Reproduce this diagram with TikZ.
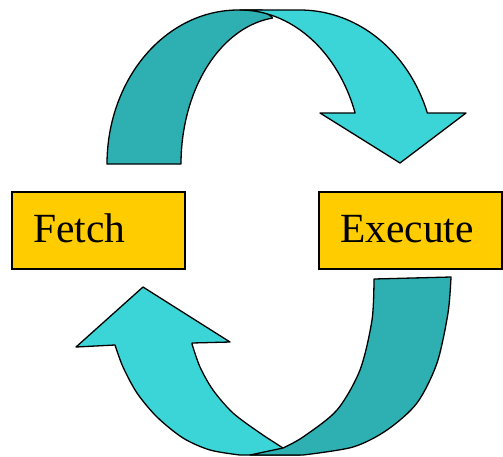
\documentclass[tikz,border=0pt]{standalone}
\usepackage{fontspec}
\setmainfont{Liberation Serif}
\definecolor{bandfront}{HTML}{3CD5D7}
\definecolor{bandback}{HTML}{2EB0B2}
\definecolor{boxfill}{HTML}{FFCC00}
\begin{document}
\begin{tikzpicture}[x=1pt,y=-1pt,
  ribbon/.style={draw=black, line width=1.3pt, line join=round},
  front/.style={ribbon, fill=bandfront},
  back/.style={ribbon, fill=bandback},
  stagebox/.style={draw=black, line width=1.1pt, fill=boxfill,
    minimum width=173pt, minimum height=77pt, inner sep=0pt},
  stagetext/.style={anchor=base west, inner sep=0pt,
    font=\fontsize{41.5}{50}\selectfont}]
\useasboundingbox (0,0) rectangle (503,456);

% upper ribbon: rear half rising from the tail
\path[back] plot[domain=180:90,samples=40] ({238+131*cos(\x)},{164-154*sin(\x)})
  -- (262,10) -- (272,17)
  -- plot[domain=97:180,samples=40] ({285+104*cos(\x)},{164-147*sin(\x)}) -- cycle;

% upper ribbon: front half ending in the head
\path[front] (240,10) -- (300,10)
  -- plot[domain=90:19.34,samples=40] ({300+135*cos(\x)},{164-154*sin(\x)})
  -- (466,113) -- (400,163) -- (320,113) -- (355,113)
  -- plot[domain=19.5:90,samples=40] ({240+122*cos(\x)},{164-154*sin(\x)}) -- cycle;

% lower ribbon: front half ending in the head
\path[front] (192,343) -- (230,342) -- (143,287) -- (76,347) -- (115,345)
  -- plot[smooth] coordinates {(115,345) (123,367) (137,393) (157,417) (183,438) (210,450) (240,455)}
  -- (300,455) -- (283,448)
  -- plot[smooth] coordinates {(283,448) (260,433) (233,413) (213,390) (200,367) (192,344)} -- cycle;

% lower ribbon: rear half falling from the tail
\path[back] (374,279) -- (451,277)
  -- plot[smooth] coordinates {(451,277) (448,313) (437,363) (417,403) (387,430) (353,447) (303,455)}
  -- (250,455) -- (283,448)
  -- plot[smooth] coordinates {(283,448) (303,437) (337,410) (360,370) (372,320) (374,279)} -- cycle;

% stages
\node[stagebox] (fetch) at (98.5,230.5) {};
\node[stagetext] (fetchtext) at (33,242) {Fetch};
\node[stagebox, minimum width=183pt] (execute) at (410.5,230.5) {};
\node[stagetext] (executetext) at (340,242) {Execute};
\end{tikzpicture}
\end{document}
